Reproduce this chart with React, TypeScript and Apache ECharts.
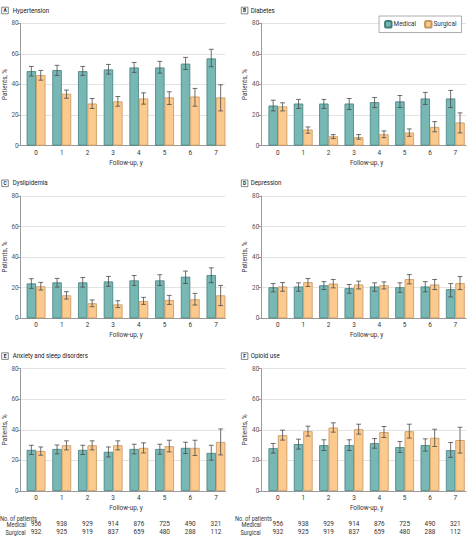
import React, { useEffect, useRef } from "react";
import * as echarts from "echarts";

const categories = ["0", "1", "2", "3", "4", "5", "6", "7"];
const yTicks = [0, 20, 40, 60, 80];

const hypertensionMedical = [48.7, 49.4, 48.7, 49.8, 51.1, 51.1, 53.6, 57.0];
const hypertensionMedicalCI = [[45.5, 51.8], [45.9, 52.5], [45.9, 51.8], [46.8, 53.1], [47.9, 54.4], [47.4, 55.1], [49.8, 57.7], [51.6, 63.0]];
const hypertensionSurgical = [46.1, 33.9, 27.5, 28.9, 30.8, 31.5, 32.1, 31.5];
const hypertensionSurgicalCI = [[42.8, 49.2], [31.0, 36.3], [24.3, 30.8], [25.8, 32.1], [27.1, 34.5], [26.9, 35.2], [25.8, 37.4], [22.7, 39.8]];

const diabetesMedical = [26.2, 27.5, 27.5, 27.5, 28.4, 28.9, 30.8, 30.8];
const diabetesMedicalCI = [[22.7, 29.7], [24.3, 30.2], [24.3, 30.2], [23.6, 30.8], [24.9, 31.5], [24.9, 32.8], [26.9, 34.8], [24.9, 36.1]];
const diabetesSurgical = [25.6, 10.5, 6.1, 5.5, 7.4, 8.5, 12.2, 15.1];
const diabetesSurgicalCI = [[22.7, 28.0], [8.1, 12.2], [4.6, 7.2], [4.2, 7.2], [5.2, 9.6], [6.1, 10.9], [9.0, 15.7], [8.3, 21.4]];

const dyslipidemiaMedical = [22.8, 23.5, 23.5, 24.1, 24.8, 24.8, 27.2, 28.3];
const dyslipidemiaMedicalCI = [[19.6, 25.9], [20.4, 26.1], [20.4, 26.7], [20.9, 27.4], [21.5, 28.0], [21.5, 28.5], [22.8, 30.9], [23.3, 33.0]];
const dyslipidemiaSurgical = [20.9, 15.0, 9.8, 9.1, 11.3, 12.0, 12.4, 15.0];
const dyslipidemiaSurgicalCI = [[18.5, 23.5], [12.6, 17.4], [7.6, 12.0], [7.0, 11.5], [9.1, 13.7], [9.1, 15.0], [8.7, 16.3], [8.3, 21.5]];

const depressionMedical = [20.3, 20.8, 21.6, 19.7, 20.8, 20.3, 20.8, 19.0];
const depressionMedicalCI = [[17.3, 22.7], [17.7, 23.2], [18.8, 24.0], [16.4, 22.1], [17.7, 23.2], [17.0, 23.2], [17.3, 24.0], [14.0, 22.7]];
const depressionSurgical = [20.8, 23.6, 22.7, 22.1, 21.6, 25.6, 22.1, 23.0];
const depressionSurgicalCI = [[17.7, 23.4], [20.8, 26.0], [19.9, 25.4], [19.2, 24.3], [19.2, 23.8], [22.5, 28.6], [18.8, 25.4], [18.8, 27.3]];

const anxietyMedical = [26.9, 27.5, 26.9, 25.6, 27.5, 27.5, 28.2, 24.9];
const anxietyMedicalCI = [[23.9, 29.9], [24.3, 30.1], [23.9, 29.9], [22.3, 28.8], [24.3, 30.6], [24.1, 30.6], [24.5, 31.9], [20.2, 29.9]];
const anxietySurgical = [26.2, 29.9, 29.9, 29.9, 28.2, 29.3, 28.2, 32.1];
const anxietySurgicalCI = [[23.4, 28.8], [26.9, 32.8], [26.9, 32.8], [26.9, 32.8], [24.9, 31.5], [25.6, 33.2], [23.2, 33.2], [23.6, 40.6]];

const opioidMedical = [28.0, 30.7, 30.0, 30.0, 31.3, 28.7, 30.0, 26.7];
const opioidMedicalCI = [[24.8, 31.1], [27.4, 33.9], [26.5, 33.5], [26.5, 33.5], [28.0, 34.3], [25.2, 32.4], [26.1, 34.1], [22.0, 31.7]];
const opioidSurgical = [36.5, 39.1, 41.5, 40.4, 38.5, 39.1, 34.8, 33.3];
const opioidSurgicalCI = [[33.3, 39.8], [35.9, 42.4], [38.5, 44.6], [37.2, 43.7], [35.0, 42.2], [34.6, 43.7], [29.1, 40.4], [24.8, 41.7]];

const medicalPatients = [956, 938, 929, 914, 876, 725, 490, 321];
const surgicalPatients = [932, 925, 919, 837, 659, 480, 288, 112];

const panelLetters = ["A", "B", "C", "D", "E", "F"];
const panelTitles = ["Hypertension", "Diabetes", "Dyslipidemia", "Depression", "Anxiety and sleep disorders", "Opioid use"];
const medicalValues = [hypertensionMedical, diabetesMedical, dyslipidemiaMedical, depressionMedical, anxietyMedical, opioidMedical];
const medicalCIs = [hypertensionMedicalCI, diabetesMedicalCI, dyslipidemiaMedicalCI, depressionMedicalCI, anxietyMedicalCI, opioidMedicalCI];
const surgicalValues = [hypertensionSurgical, diabetesSurgical, dyslipidemiaSurgical, depressionSurgical, anxietySurgical, opioidSurgical];
const surgicalCIs = [hypertensionSurgicalCI, diabetesSurgicalCI, dyslipidemiaSurgicalCI, depressionSurgicalCI, anxietySurgicalCI, opioidSurgicalCI];

const FONT = "Roboto, 'Liberation Sans', sans-serif";
const MED_FILL = "#78b8b4";
const MED_BORDER = "#427f7c";
const SUR_FILL = "#fdca8e";
const SUR_BORDER = "#c49660";
const ERR_COLOR = "#4a4a4a";
const TXT = "#333";
const BAR_W = 9.4;
const FS = 6.4;

function errorRender(offset: number) {
  return (params: any, api: any) => {
    const i = api.value(0);
    const lo = api.coord([i, api.value(1)]);
    const hi = api.coord([i, api.value(2)]);
    const x = lo[0] + offset;
    const cap = 2.4;
    const style = { stroke: ERR_COLOR, lineWidth: 0.8 };
    return {
      type: "group",
      children: [
        { type: "line", shape: { x1: x, y1: lo[1], x2: x, y2: hi[1] }, style },
        { type: "line", shape: { x1: x - cap, y1: lo[1], x2: x + cap, y2: lo[1] }, style },
        { type: "line", shape: { x1: x - cap, y1: hi[1], x2: x + cap, y2: hi[1] }, style },
      ],
    };
  };
}

function buildOption() {
  const grid: any[] = [];
  const xAxis: any[] = [];
  const yAxis: any[] = [];
  const series: any[] = [];
  const graphic: any[] = [];

  const frameW = 204.8;
  const bandW = 205.6;
  const plotH = 122.3;

  for (let p = 0; p < 6; p++) {
    const col = p % 2;
    const row = Math.floor(p / 2);
    const axisX = col ? 261.3 : 20.7;
    const bandLeft = col ? 265.2 : 23.2;
    const top = 23.3 + row * 172.7;

    const gFrame = grid.length;
    grid.push({ left: axisX, top, width: frameW, height: plotH, containLabel: false });
    const gBars = grid.length;
    grid.push({ left: bandLeft, top, width: bandW, height: plotH, containLabel: false });

    xAxis.push({
      gridIndex: gFrame, type: "value", min: 0, max: 1,
      axisLine: { show: true, lineStyle: { color: "#9a9a9a", width: 1 } },
      axisTick: { show: false }, axisLabel: { show: false }, splitLine: { show: false },
    });
    yAxis.push({
      gridIndex: gFrame, type: "value", min: 0, max: 80, interval: 20,
      axisLine: { show: true, lineStyle: { color: "#9a9a9a", width: 1 } },
      axisTick: { show: true, length: 3, lineStyle: { color: "#9a9a9a" } },
      axisLabel: { fontSize: FS, color: "#555", margin: 2, fontFamily: FONT,
        formatter: (v: number) => (yTicks.includes(v) ? String(v) : "") },
      splitLine: { show: true, lineStyle: { color: "#e3e3e3", width: 1 } },
      name: "Patients, %", nameLocation: "middle", nameGap: 12,
      nameTextStyle: { fontSize: FS, color: TXT, fontFamily: FONT },
    });
    const xBars = xAxis.length;
    xAxis.push({
      gridIndex: gBars, type: "category", data: categories,
      axisLine: { show: false }, axisTick: { show: false },
      axisLabel: { fontSize: FS, color: TXT, margin: 4, fontFamily: FONT },
      name: "Follow-up, y", nameLocation: "middle", nameGap: 14,
      nameTextStyle: { fontSize: FS, color: TXT, fontFamily: FONT },
    });
    const yBars = yAxis.length;
    yAxis.push({ gridIndex: gBars, type: "value", min: 0, max: 80, show: false });

    if (row === 2) {
      xAxis.push({
        gridIndex: gBars, type: "category", data: medicalPatients.map(String), position: "bottom", offset: 29.5,
        axisLine: { show: false }, axisTick: { show: false },
        axisLabel: { fontSize: FS, color: TXT, margin: 0, fontFamily: FONT },
      });
      xAxis.push({
        gridIndex: gBars, type: "category", data: surgicalPatients.map(String), position: "bottom", offset: 37.8,
        axisLine: { show: false }, axisTick: { show: false },
        axisLabel: { fontSize: FS, color: TXT, margin: 0, fontFamily: FONT },
      });
      const lx = col ? 235 : 0;
      const ts = { fontSize: FS, fill: TXT, fontFamily: FONT, verticalAlign: "middle" };
      graphic.push({ type: "text", x: lx, y: 518.3, scaleX: 0.88, style: { ...ts, text: "No. of patients" } });
      graphic.push({ type: "text", x: lx + 6.5, y: 524.5, scaleX: 0.88, style: { ...ts, text: "Medical" } });
      graphic.push({ type: "text", x: lx + 5.5, y: 532.8, scaleX: 0.88, style: { ...ts, text: "Surgical" } });
    }

    series.push({
      type: "bar", name: "Medical", xAxisIndex: xBars, yAxisIndex: yBars,
      data: medicalValues[p], barWidth: BAR_W, barGap: "0%",
      itemStyle: { color: MED_FILL, borderColor: MED_BORDER, borderWidth: 0.8 }, z: 2,
    });
    series.push({
      type: "bar", name: "Surgical", xAxisIndex: xBars, yAxisIndex: yBars,
      data: surgicalValues[p], barWidth: BAR_W, barGap: "0%",
      itemStyle: { color: SUR_FILL, borderColor: SUR_BORDER, borderWidth: 0.8 }, z: 2,
    });
    series.push({
      type: "custom", name: "MedicalCI", xAxisIndex: xBars, yAxisIndex: yBars,
      data: medicalCIs[p].map((c, i) => [i, c[0], c[1]]),
      encode: { x: 0, y: [1, 2] }, renderItem: errorRender(-BAR_W / 2), z: 4, silent: true,
    });
    series.push({
      type: "custom", name: "SurgicalCI", xAxisIndex: xBars, yAxisIndex: yBars,
      data: surgicalCIs[p].map((c, i) => [i, c[0], c[1]]),
      encode: { x: 0, y: [1, 2] }, renderItem: errorRender(BAR_W / 2), z: 4, silent: true,
    });

    const boxX = col ? 241.3 : 1.7;
    const textX = col ? 250.7 : 12.7;
    const ty = 10.5 + row * 172.8;
    graphic.push({ type: "rect", shape: { x: boxX, y: ty - 3.3, width: 6.6, height: 6.6 }, style: { fill: "#fff", stroke: "#555", lineWidth: 0.7 } });
    graphic.push({ type: "text", x: boxX + 3.3, y: ty, style: { text: panelLetters[p], fontSize: 4.8, fontWeight: "bold", fill: "#222", fontFamily: FONT, align: "center", verticalAlign: "middle" } });
    graphic.push({ type: "text", x: textX, y: ty, scaleX: 0.88, style: { text: panelTitles[p], fontSize: 7, fill: "#222", fontFamily: FONT, verticalAlign: "middle" } });
  }

  return {
    animation: false,
    backgroundColor: "#fff",
    textStyle: { fontFamily: FONT },
    grid, xAxis, yAxis, series, graphic,
    legend: {
      data: ["Medical", "Surgical"], right: 6.5, top: 16, orient: "horizontal",
      padding: [4, 5], itemWidth: 6.5, itemHeight: 6.5, itemGap: 8,
      backgroundColor: "#fff", borderColor: "#999", borderWidth: 0.8,
      textStyle: { fontSize: FS, color: TXT, fontFamily: FONT, padding: [0, 0, 0, -3] },
    },
  };
}

export default function App() {
  const ref = useRef<HTMLDivElement>(null);
  useEffect(() => {
    if (!ref.current) return;
    const chart = echarts.init(ref.current, null, { renderer: "svg" });
    chart.setOption(buildOption() as any);
    return () => chart.dispose();
  }, []);
  return <div ref={ref} style={{ position: "absolute", left: 0, top: 0, width: 468, height: 540, background: "#fff" }} />;
}
